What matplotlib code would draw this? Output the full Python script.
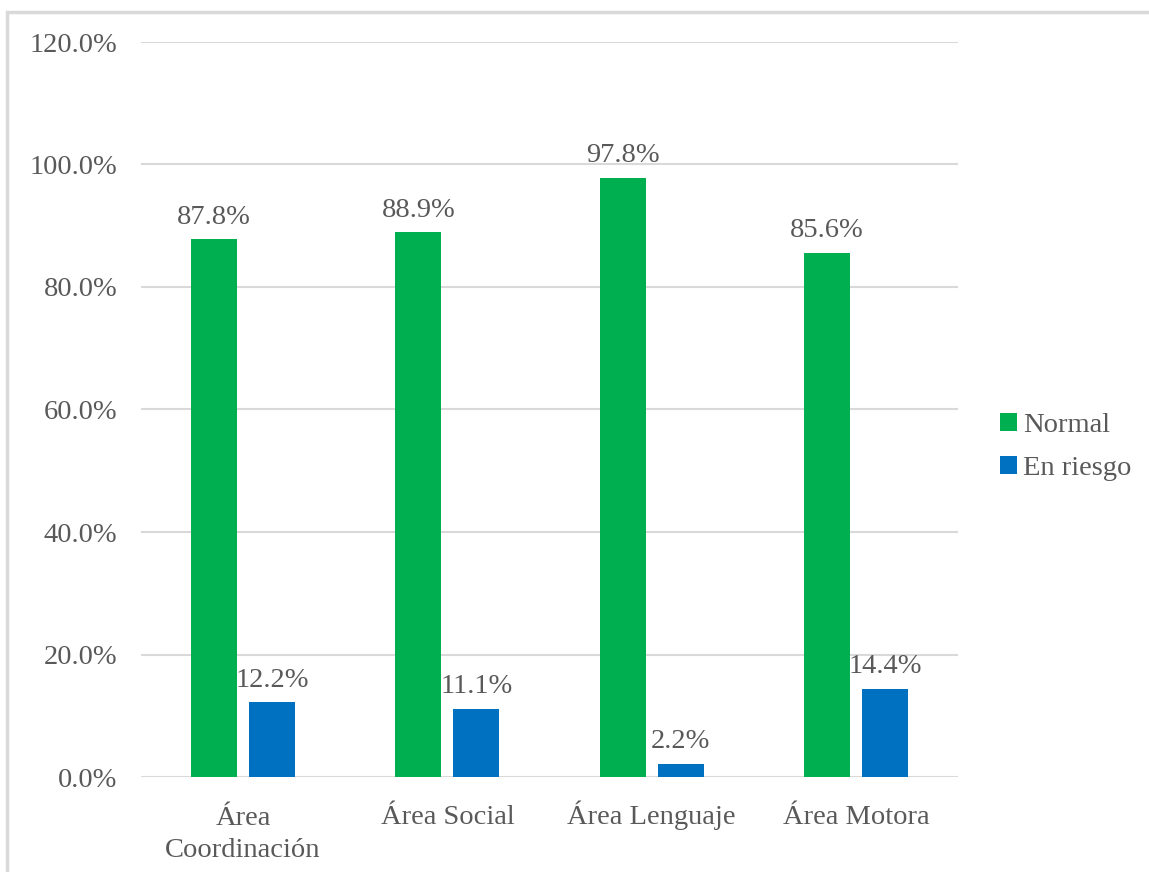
import matplotlib
matplotlib.use("Agg")
import matplotlib.pyplot as plt
import numpy as np
from matplotlib.patches import Rectangle

categories = ["Área\nCoordinación", "Área Social", "Área Lenguaje", "Área Motora"]
normal = [87.8, 88.9, 97.8, 85.6]
riesgo = [12.2, 11.1, 2.2, 14.4]
series_names = ["Normal", "En riesgo"]
yticks = [0, 20, 40, 60, 80, 100, 120]

plt.rcParams['font.family'] = ['Liberation Serif', 'DejaVu Serif']
TXT = '#595959'
FS = 20.5

fig = plt.figure(figsize=(11.49, 8.72), dpi=100)
ax = fig.add_axes([141/1149, 1 - 777/872, (958-141)/1149, (777-42)/872])

x = np.arange(len(categories))
w = 0.225
off = 0.142
b1 = ax.bar(x - off, normal, w, color='#00B050', label=series_names[0], zorder=3)
b2 = ax.bar(x + off, riesgo, w, color='#0070C0', label=series_names[1], zorder=3)

for bars, vals in ((b1, normal), (b2, riesgo)):
    for r, v in zip(bars, vals):
        ax.annotate(f"{v:.1f}%", (r.get_x() + r.get_width()/2, r.get_height()),
                    xytext=(0, 7), textcoords='offset points', ha='center', va='bottom',
                    fontsize=FS, color=TXT)

ax.set_xlim(-0.5, len(categories) - 0.5)
ax.set_ylim(0, 120)
ax.set_yticks(yticks)
ax.set_yticklabels([f"{t:.1f}%" for t in yticks])
ax.set_xticks(x)
ax.tick_params(axis='both', length=0, labelsize=FS, colors=TXT)
ax.tick_params(axis='x', labelbottom=False)
ax.tick_params(axis='y', pad=17)

# category labels: first-line baselines aligned, extra lines below
line_h = 23.8  # points
for xi, lab in zip(x, categories):
    n = lab.count("\n")
    ax.annotate(lab, (xi, 0), xycoords=('data', 'axes fraction'),
                xytext=(0, -34 - n * line_h), textcoords='offset points',
                ha='center', va='baseline', multialignment='center',
                linespacing=1.4, fontsize=FS, color=TXT)

ax.grid(axis='y', color='#D9D9D9', linewidth=1.5, zorder=0)
for s in ax.spines.values():
    s.set_visible(False)

leg = fig.legend(handles=[b1, b2], labels=series_names, loc='center left',
                 bbox_to_anchor=(1000/1149, 1 - 447/872), frameon=False,
                 borderaxespad=0, borderpad=0,
                 fontsize=FS, handlelength=0.6, handleheight=0.6, handletextpad=0.2,
                 labelspacing=0.6)
for t in leg.get_texts():
    t.set_color(TXT)

fig.patches.append(Rectangle((7/1149, -0.05), 1.1, 1 - 12/872 + 0.05, transform=fig.transFigure,
                             fill=False, edgecolor='#D9D9D9', linewidth=2.5))

fig.savefig("out.png", dpi=100)
